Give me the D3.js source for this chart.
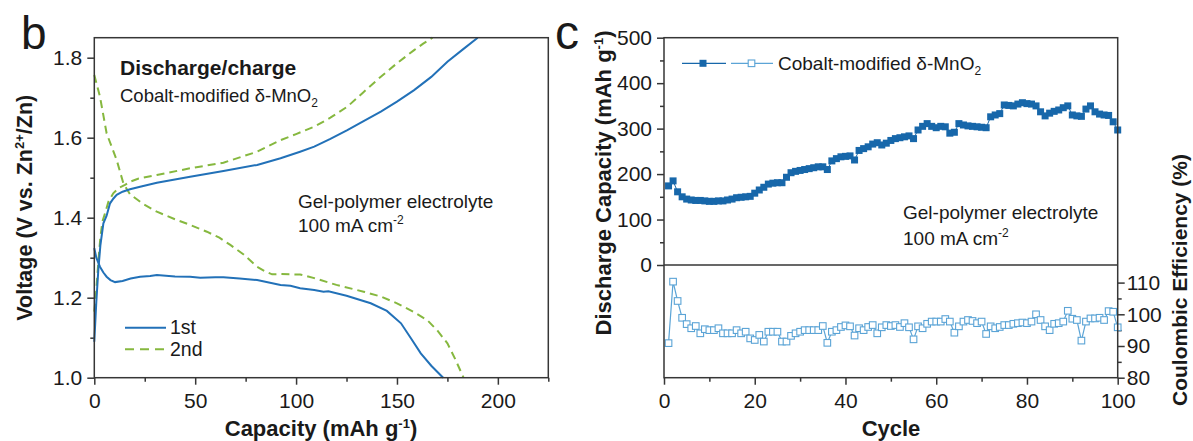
<!DOCTYPE html>
<html>
<head>
<meta charset="utf-8">
<script src="https://cdn.jsdelivr.net/npm/d3@7"></script>
<style>
  body { margin: 0; background: #fff; }
  svg { font-family: "Liberation Sans", Arial, sans-serif; }
</style>
</head>
<body>
<svg id="chart" width="1193" height="441"></svg>
<script>
// ---- panel b : voltage profiles ----
const dis1Cap = [0, 1, 2.8, 4.5, 6.1, 8, 10.3, 14, 18, 22.7, 27.7, 31, 40, 47.5, 52.5, 60, 64, 72, 80.7, 92.3, 97.2, 102, 109, 113.6, 116, 125, 137, 145, 152, 157, 161.8, 167, 172.9];
const dis1V   = [1.324, 1.30, 1.2775, 1.263, 1.2525, 1.244, 1.239, 1.242, 1.248, 1.2525, 1.254, 1.2568, 1.253, 1.2525, 1.250, 1.251, 1.251, 1.248, 1.244, 1.232, 1.23, 1.2235, 1.219, 1.215, 1.216, 1.205, 1.186, 1.167, 1.136, 1.098, 1.061, 1.03, 1.0];

const ch1Cap = [0, 1, 2, 3, 4.5, 6.1, 7.8, 9.5, 11.1, 14, 17.7, 22.7, 31, 47.5, 64, 80.7, 92.3, 102, 109, 117, 125.4, 133, 142, 150, 158.5, 167, 175, 183, 190];
const ch1V   = [1.09, 1.19, 1.27, 1.33, 1.386, 1.405, 1.436, 1.448, 1.457, 1.465, 1.471, 1.4775, 1.4875, 1.5025, 1.517, 1.532, 1.5485, 1.565, 1.5775, 1.597, 1.619, 1.64, 1.665, 1.69, 1.719, 1.752, 1.79, 1.822, 1.85];

const dis2Cap = [0, 2.8, 6.1, 11.1, 14.4, 17.7, 24, 31, 40, 47.5, 55.8, 62, 67.4, 74, 80.7, 85, 88.1, 92.3, 97.2, 102, 109, 120, 133.5, 142, 150, 158, 165, 170, 175, 179, 183];
const dis2V   = [1.757, 1.703, 1.611, 1.544, 1.486, 1.4585, 1.435, 1.415, 1.396, 1.382, 1.365, 1.35, 1.332, 1.308, 1.2775, 1.265, 1.2585, 1.259, 1.2585, 1.258, 1.249, 1.232, 1.215, 1.203, 1.186, 1.165, 1.144, 1.118, 1.086, 1.045, 1.0];

const ch2Cap = [0, 1, 2, 3, 4, 5.3, 7, 9.4, 12, 15.2, 17.7, 22, 31, 47.5, 64, 80.7, 92.3, 100, 109, 117, 125.4, 133, 142, 150, 158.5, 163, 167.6];
const ch2V   = [1.165, 1.22, 1.29, 1.35, 1.39, 1.411, 1.44, 1.461, 1.474, 1.482, 1.49, 1.498, 1.507, 1.5235, 1.5375, 1.565, 1.594, 1.609, 1.6275, 1.65, 1.6775, 1.712, 1.7525, 1.786, 1.819, 1.835, 1.85];

const capTicks = [0, 50, 100, 150, 200];
const capMinor = [25, 75, 125, 175, 225];
const voltTicks = [1.0, 1.2, 1.4, 1.6, 1.8];
const voltMinor = [1.1, 1.3, 1.5, 1.7];

// ---- panel c : cycling ----
const dischargeCap = [174, 185, 161, 150, 145, 143, 142, 142, 141, 140, 140, 141, 141, 143, 145, 148, 149, 150, 151, 158,
  165, 171, 178, 180, 181, 181, 193, 203, 206, 208, 210, 212, 214, 216, 216, 210, 229, 234, 238, 239,
  240, 231, 252, 256, 260, 266, 269, 264, 268, 274, 278, 280, 282, 284, 278, 297, 305, 311, 305, 302,
  305, 304, 290, 292, 311, 308, 306, 305, 304, 303, 302, 326, 330, 333, 352, 351, 350, 354, 357, 355,
  354, 350, 337, 328, 334, 338, 341, 346, 350, 330, 328, 327, 343, 350, 337, 332, 330, 329, 315, 297];
const coulombicEff = [90.9, 110.3, 104.2, 98.9, 96.9, 95.6, 96.3, 94, 95.3, 95, 95, 95.6, 94, 94, 94, 95, 94, 94.5, 92.4, 91.9,
  93.5, 91.4, 94.5, 94.5, 94.5, 91.4, 91.4, 93.2, 94, 94.5, 95, 95, 95, 95, 96.3, 91, 94.5, 95, 96, 96.5,
  96.2, 93.3, 95.6, 95, 96, 96.6, 94, 95.9, 96.6, 96.3, 96.6, 96, 97.2, 95.9, 92.1, 96.2, 95.6, 97, 97.7, 97.7,
  97.7, 98.5, 97.7, 94.2, 96.2, 97.7, 98.2, 97.9, 97.2, 97.7, 93.8, 96.2, 95.6, 96, 96.6, 96.6, 97, 97.2, 97.4, 97.2,
  97.7, 100, 98.2, 96.2, 95, 97, 97.2, 97.7, 101.1, 98.6, 98.2, 91.7, 97.7, 98.7, 98.7, 98.9, 98.2, 101, 100.8, 95.9];
const cycles = dischargeCap.map((d, i) => i + 1);

const cycleTicks = [0, 20, 40, 60, 80, 100];
const cycleMinor = [10, 30, 50, 70, 90];
const dcapTicks = [0, 100, 200, 300, 400, 500];
const dcapMinor = [50, 150, 250, 350, 450];
const ceTicks = [80, 90, 100, 110];
const ceMinor = [85, 95, 105];

const blue = "#2271b8";
const green = "#86b83f";
const capColor = "#1767aa";
const ceColor = "#5ba4d6";
const frameColor = "#363636";
const textColor = "#1a1a1a";

const svg = d3.select("#chart");

// scales
const xB = d3.scaleLinear().domain([0, 225]).range([94.3, 548.3]);
const yB = d3.scaleLinear().domain([1.0, 1.85]).range([377.7, 37.7]);
const xC = d3.scaleLinear().domain([0, 100]).range([664, 1117.7]);
const yCap = d3.scaleLinear().domain([0, 500]).range([265, 37.7]);
const yCE = d3.scaleLinear().domain([80, 115.55]).range([377.7, 265]);

function styleAxis(g) {
  g.select(".domain").remove();
  g.selectAll(".tick line").attr("stroke", frameColor).attr("stroke-width", 1.5);
  g.selectAll(".tick text").attr("font-size", 21).attr("fill", textColor)
    .attr("font-family", "Liberation Sans, Arial, sans-serif");
}

// ---- panel b axes ----
svg.append("g").attr("transform", "translate(94.3,0)")
  .call(d3.axisLeft(yB).tickValues(voltTicks).tickFormat(d3.format(".1f")).tickSize(7).tickPadding(5).tickSizeOuter(0))
  .call(styleAxis);
svg.append("g").attr("transform", "translate(94.3,0)")
  .call(d3.axisLeft(yB).tickValues(voltMinor).tickFormat("").tickSize(4).tickSizeOuter(0))
  .call(styleAxis);
svg.append("g").attr("transform", "translate(0,377.7)")
  .call(d3.axisBottom(xB).tickValues(capTicks).tickSize(7).tickPadding(8).tickSizeOuter(0))
  .call(styleAxis);
svg.append("g").attr("transform", "translate(0,377.7)")
  .call(d3.axisBottom(xB).tickValues(capMinor).tickFormat("").tickSize(4).tickSizeOuter(0))
  .call(styleAxis);

// curves
const lineB = d3.line().x(d => xB(d[0])).y(d => yB(d[1]));
const pair = (a, b) => a.map((v, i) => [v, b[i]]);

svg.append("path").datum(pair(dis2Cap, dis2V)).attr("d", lineB)
  .attr("fill", "none").attr("stroke", green).attr("stroke-width", 2).attr("stroke-dasharray", "8,5");
svg.append("path").datum(pair(ch2Cap, ch2V)).attr("d", lineB)
  .attr("fill", "none").attr("stroke", green).attr("stroke-width", 2).attr("stroke-dasharray", "8,5");
svg.append("path").datum(pair(dis1Cap, dis1V)).attr("d", lineB)
  .attr("fill", "none").attr("stroke", blue).attr("stroke-width", 2);
svg.append("path").datum(pair(ch1Cap, ch1V)).attr("d", lineB)
  .attr("fill", "none").attr("stroke", blue).attr("stroke-width", 2);

// frame b
svg.append("rect").attr("x", xB(0)).attr("y", yB(1.85))
  .attr("width", xB(225) - xB(0)).attr("height", yB(1.0) - yB(1.85))
  .attr("fill", "none").attr("stroke", frameColor).attr("stroke-width", 1.5);

// legend b
svg.append("line").attr("x1", 125).attr("x2", 166).attr("y1", 327.7).attr("y2", 327.7)
  .attr("stroke", blue).attr("stroke-width", 2);
svg.append("line").attr("x1", 125).attr("x2", 166).attr("y1", 349.3).attr("y2", 349.3)
  .attr("stroke", green).attr("stroke-width", 2).attr("stroke-dasharray", "9,6");
svg.append("text").attr("x", 170).attr("y", 334).attr("font-size", 19.5).attr("fill", textColor).text("1st");
svg.append("text").attr("x", 170).attr("y", 355.5).attr("font-size", 19.5).attr("fill", textColor).text("2nd");

// annotations b
svg.append("text").attr("x", 120).attr("y", 75).attr("font-size", 21).attr("font-weight", "bold")
  .attr("fill", textColor).text("Discharge/charge");
const mno = svg.append("text").attr("x", 120).attr("y", 102).attr("font-size", 18.5).attr("fill", textColor);
mno.append("tspan").text("Cobalt-modified δ-MnO");
mno.append("tspan").attr("dy", 5).attr("font-size", 12).text("2");

function electrolyteNote(x, y1, y2) {
  svg.append("text").attr("x", x).attr("y", y1).attr("font-size", 19).attr("fill", textColor)
    .text("Gel-polymer electrolyte");
  const t = svg.append("text").attr("x", x).attr("y", y2).attr("font-size", 19).attr("fill", textColor);
  t.append("tspan").text("100 mA cm");
  t.append("tspan").attr("dy", -8).attr("font-size", 12).text("-2");
}
electrolyteNote(298, 207.5, 232);

// axis titles b
const yTitleB = svg.append("text").attr("transform", "translate(32,207.7) rotate(-90)")
  .attr("text-anchor", "middle").attr("font-size", 21.5).attr("font-weight", "bold").attr("fill", textColor);
yTitleB.append("tspan").text("Voltage (V vs. Zn");
yTitleB.append("tspan").attr("dy", -8).attr("font-size", 13).text("2+");
yTitleB.append("tspan").attr("dy", 8).text("/Zn)");

const xTitleB = svg.append("text").attr("x", 321).attr("y", 435.5)
  .attr("text-anchor", "middle").attr("font-size", 22).attr("font-weight", "bold").attr("fill", textColor);
xTitleB.append("tspan").text("Capacity (mAh g");
xTitleB.append("tspan").attr("dy", -8).attr("font-size", 13).text("-1");
xTitleB.append("tspan").attr("dy", 8).text(")");

// ---- panel c axes ----
svg.append("g").attr("transform", "translate(664,0)")
  .call(d3.axisLeft(yCap).tickValues(dcapTicks).tickSize(7).tickPadding(5).tickSizeOuter(0))
  .call(styleAxis);
svg.append("g").attr("transform", "translate(664,0)")
  .call(d3.axisLeft(yCap).tickValues(dcapMinor).tickFormat("").tickSize(4).tickSizeOuter(0))
  .call(styleAxis);
svg.append("g").attr("transform", "translate(0,377.7)")
  .call(d3.axisBottom(xC).tickValues(cycleTicks).tickSize(7).tickPadding(8).tickSizeOuter(0))
  .call(styleAxis);
svg.append("g").attr("transform", "translate(0,377.7)")
  .call(d3.axisBottom(xC).tickValues(cycleMinor).tickFormat("").tickSize(4).tickSizeOuter(0))
  .call(styleAxis);
svg.append("g").attr("transform", "translate(1117.7,0)")
  .call(d3.axisRight(yCE).tickValues(ceTicks).tickSize(7).tickPadding(2).tickSizeOuter(0))
  .call(styleAxis);
svg.append("g").attr("transform", "translate(1117.7,0)")
  .call(d3.axisRight(yCE).tickValues(ceMinor).tickFormat("").tickSize(4).tickSizeOuter(0))
  .call(styleAxis);

// capacity series
const lineCap = d3.line().x((d, i) => xC(cycles[i])).y(d => yCap(d));
svg.append("path").datum(dischargeCap).attr("d", lineCap)
  .attr("fill", "none").attr("stroke", capColor).attr("stroke-width", 1);
svg.append("g").selectAll("rect").data(dischargeCap).join("rect")
  .attr("x", (d, i) => xC(cycles[i]) - 3.5).attr("y", d => yCap(d) - 3.5)
  .attr("width", 7).attr("height", 7).attr("fill", capColor);

// coulombic efficiency series
const lineCE = d3.line().x((d, i) => xC(cycles[i])).y(d => yCE(d));
svg.append("path").datum(coulombicEff).attr("d", lineCE)
  .attr("fill", "none").attr("stroke", ceColor).attr("stroke-width", 1.2);
svg.append("g").selectAll("rect").data(coulombicEff).join("rect")
  .attr("x", (d, i) => xC(cycles[i]) - 3.3).attr("y", d => yCE(d) - 3.3)
  .attr("width", 6.6).attr("height", 6.6).attr("fill", "#fff")
  .attr("stroke", ceColor).attr("stroke-width", 1.1);

// frame c
svg.append("rect").attr("x", xC(0)).attr("y", yCap(500))
  .attr("width", xC(100) - xC(0)).attr("height", yCE(80) - yCap(500))
  .attr("fill", "none").attr("stroke", frameColor).attr("stroke-width", 1.5);
svg.append("line").attr("x1", xC(0)).attr("x2", xC(100)).attr("y1", yCap(0)).attr("y2", yCap(0))
  .attr("stroke", frameColor).attr("stroke-width", 1.5);

// legend c
svg.append("line").attr("x1", 682).attr("x2", 726).attr("y1", 63.3).attr("y2", 63.3)
  .attr("stroke", capColor).attr("stroke-width", 1.2);
svg.append("rect").attr("x", 703 - 3.5).attr("y", 63.3 - 3.5).attr("width", 7).attr("height", 7).attr("fill", capColor);
svg.append("line").attr("x1", 731).attr("x2", 773).attr("y1", 63.3).attr("y2", 63.3)
  .attr("stroke", ceColor).attr("stroke-width", 1.2);
svg.append("rect").attr("x", 751.5 - 3.3).attr("y", 63.3 - 3.3).attr("width", 6.6).attr("height", 6.6)
  .attr("fill", "#fff").attr("stroke", ceColor).attr("stroke-width", 1.1);
const legC = svg.append("text").attr("x", 778).attr("y", 70).attr("font-size", 19).attr("fill", textColor);
legC.append("tspan").text("Cobalt-modified δ-MnO");
legC.append("tspan").attr("dy", 5).attr("font-size", 12).text("2");

electrolyteNote(903, 218.5, 245);

// axis titles c
const yTitleC = svg.append("text").attr("transform", "translate(611,183) rotate(-90)")
  .attr("text-anchor", "middle").attr("font-size", 22).attr("font-weight", "bold").attr("fill", textColor);
yTitleC.append("tspan").text("Discharge Capacity (mAh g");
yTitleC.append("tspan").attr("dy", -8).attr("font-size", 13).text("-1");
yTitleC.append("tspan").attr("dy", 8).text(")");

svg.append("text").attr("transform", "translate(1186.5,280) rotate(-90)")
  .attr("text-anchor", "middle").attr("font-size", 21).attr("font-weight", "bold").attr("fill", textColor)
  .text("Coulombic Efficiency (%)");

svg.append("text").attr("x", 891).attr("y", 435.5).attr("text-anchor", "middle")
  .attr("font-size", 22).attr("font-weight", "bold").attr("fill", textColor).text("Cycle");

// panel letters
svg.append("text").attr("x", 21).attr("y", 49).attr("font-size", 46).attr("fill", textColor).text("b");
svg.append("text").attr("x", 555).attr("y", 49).attr("font-size", 48).attr("fill", textColor).text("c");
</script>
</body>
</html>
